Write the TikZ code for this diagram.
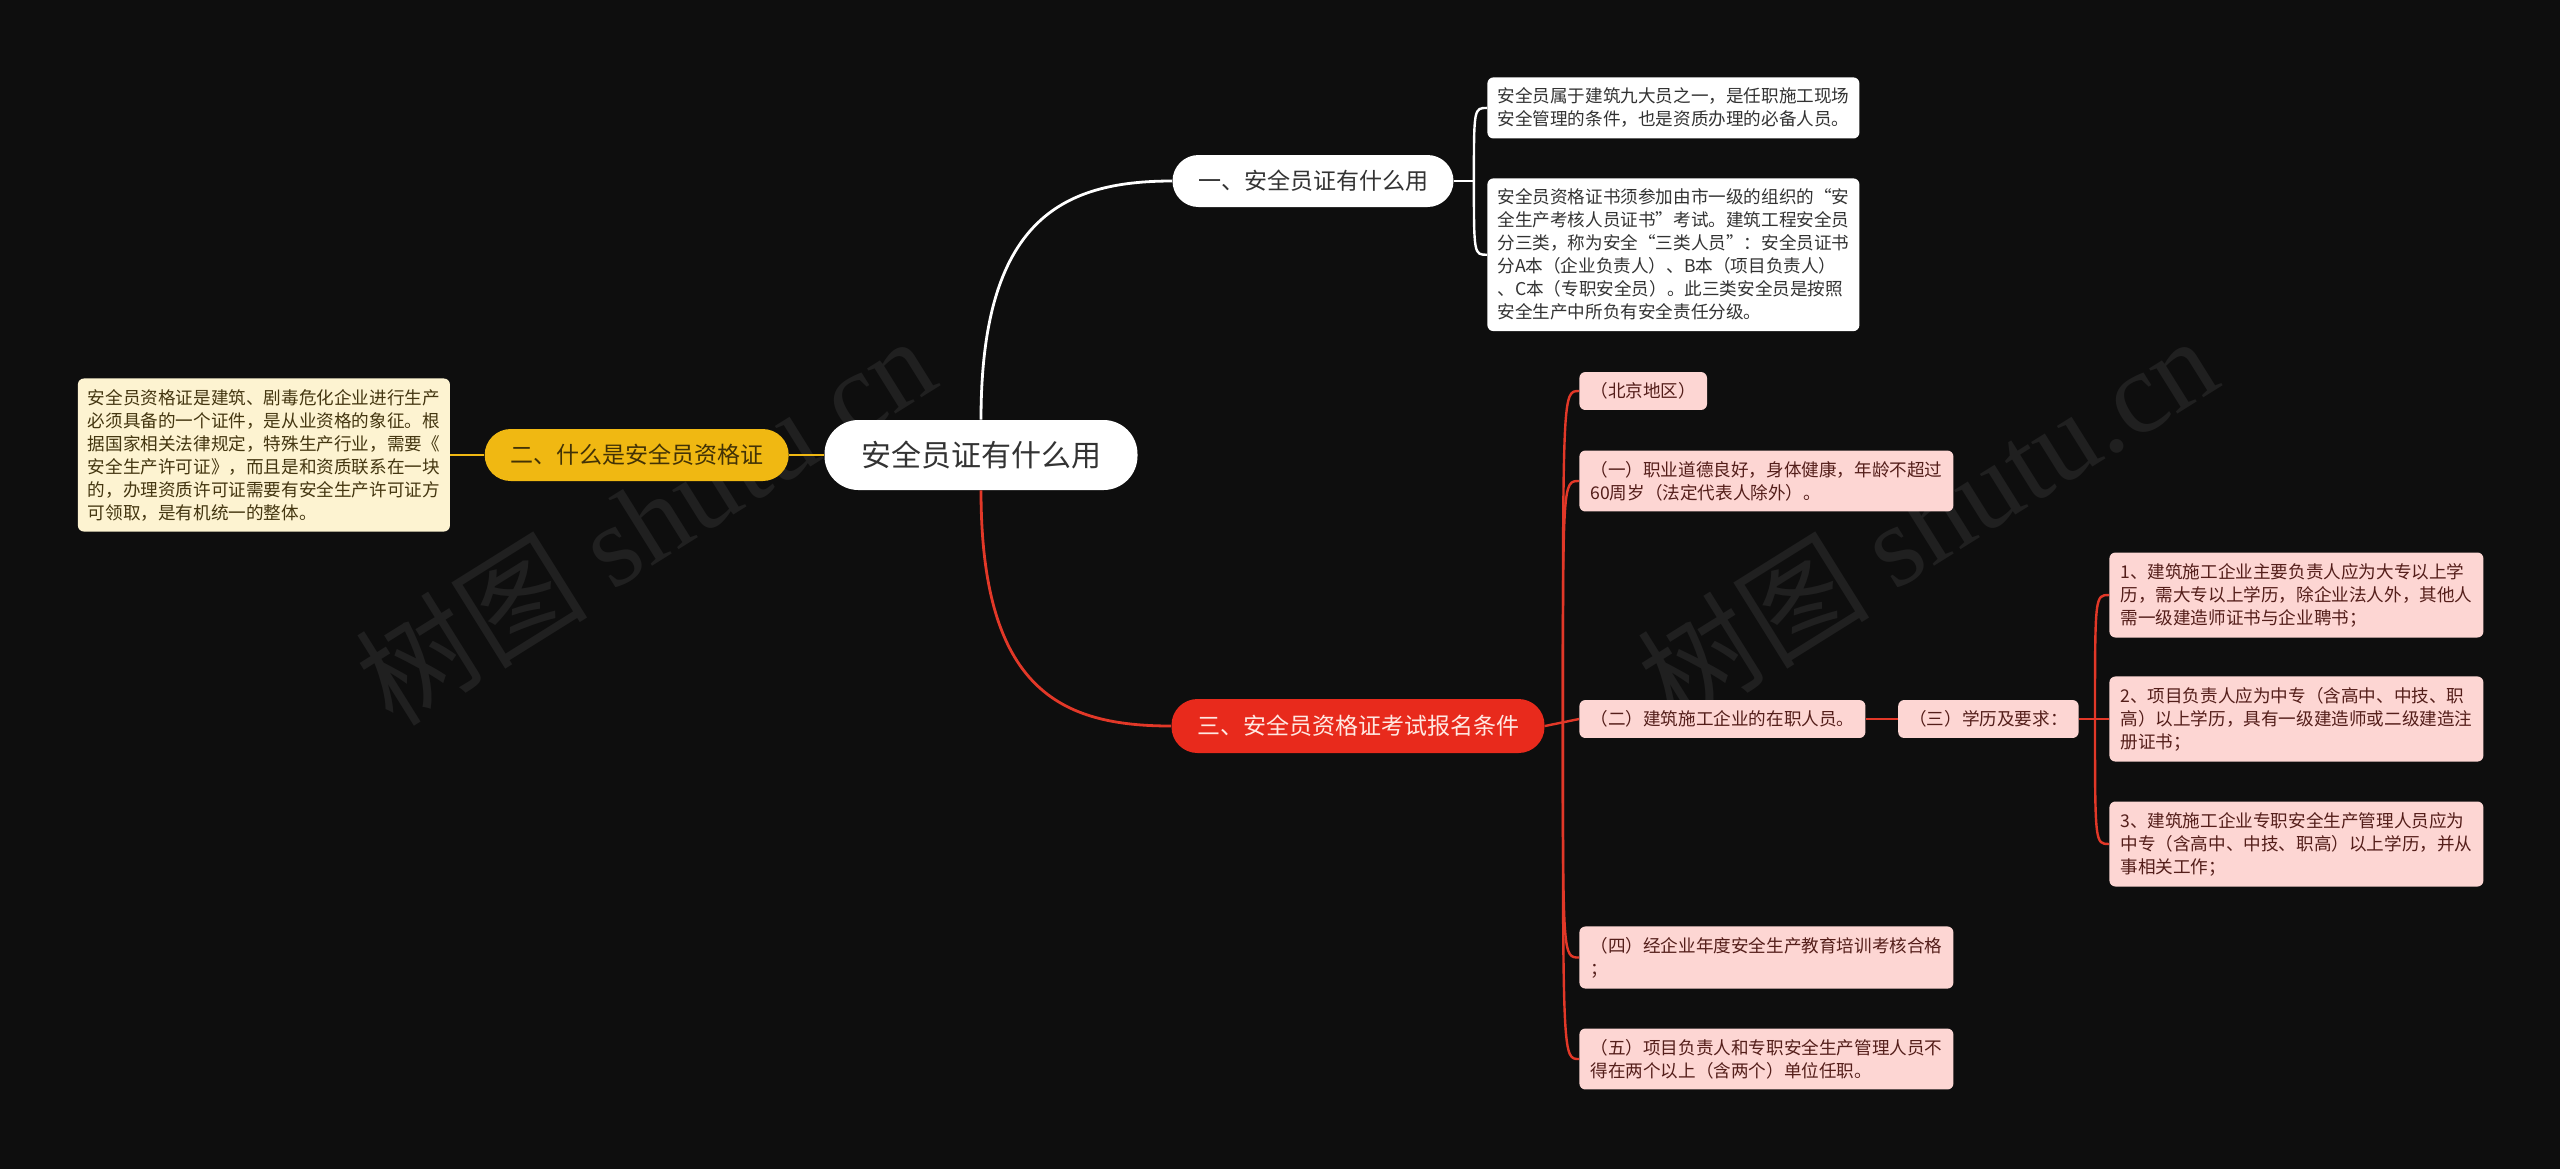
\documentclass[tikz,border=0pt]{standalone}
\usepackage{fontspec}
\setmainfont{Noto Sans CJK SC}
\newfontfamily\markfont{Liberation Serif}
\usepackage{tikz}
\usetikzlibrary{positioning}
\definecolor{bgblack}{RGB}{14, 14, 14}
\definecolor{textgray}{RGB}{51, 51, 51}
\definecolor{goldfill}{RGB}{240, 184, 18}
\definecolor{goldtext}{RGB}{66, 50, 6}
\definecolor{creamfill}{RGB}{253, 243, 209}
\definecolor{creamtext}{RGB}{68, 54, 16}
\definecolor{redfill}{RGB}{232, 42, 28}
\definecolor{redtext}{RGB}{255, 232, 226}
\definecolor{redline}{RGB}{226, 56, 40}
\definecolor{pinkfill}{RGB}{253, 214, 211}
\definecolor{pinktext}{RGB}{84, 30, 26}
\definecolor{marktext}{RGB}{32, 32, 32}

\begin{document}
\begin{tikzpicture}[x=0.5pt, y=-0.5pt,
  rootbox/.style={fill=white, text=textgray, rounded corners=17pt,
                  minimum width=156.5pt, minimum height=35pt, inner sep=0pt,
                  font=\fontsize{15pt}{18pt}\selectfont},
  topic/.style={rounded corners=13pt, minimum height=26pt, inner sep=0pt,
                font=\fontsize{11.5pt}{14pt}\selectfont},
  whitetopic/.style={topic, fill=white, text=textgray},
  goldtopic/.style={topic, fill=goldfill, text=goldtext},
  redtopic/.style={topic, fill=redfill, text=redtext, minimum height=27pt},
  leaf/.style={rounded corners=3pt, align=left, inner xsep=5pt, inner ysep=5.3pt,
               font=\fontsize{8.8pt}{11.5pt}\selectfont},
  whiteleaf/.style={leaf, fill=white, text=textgray},
  creamleaf/.style={leaf, fill=creamfill, text=creamtext},
  pinkleaf/.style={leaf, fill=pinkfill, text=pinktext, inner xsep=5.5pt},
  wline/.style={draw=white, line width=1.4pt},
  gline/.style={draw=goldfill, line width=1.4pt},
  rline/.style={draw=redline, line width=1.4pt},
  wmark/.style={text=marktext, rotate=32, font=\fontsize{58pt}{58pt}\selectfont}]
  \fill[bgblack] (0,0) rectangle (2560,1169);
  \useasboundingbox (0,0) rectangle (2560,1169);
  \node[wmark] (markL) at (645,519) {树图 {\markfont shutu.cn}};
  \node[wmark] (markR) at (1927,519) {树图 {\markfont shutu.cn}};

  \node[rootbox] (root) at (981,455) {安全员证有什么用};
  \node[whitetopic, minimum width=140.5pt] (use) at (1313,181) {一、安全员证有什么用};
  \node[goldtopic, minimum width=152pt, left=17.5pt of root] (cert) {二、什么是安全员资格证};
  \node[redtopic, minimum width=186.5pt] (exam) at (1358,726) {三、安全员资格证考试报名条件};

  \node[whiteleaf, anchor=north west] (useA) at (1487,77)
    {安全员属于建筑九大员之一，是任职施工现场\\安全管理的条件，也是资质办理的必备人员。};
  \node[whiteleaf, anchor=north west] (useB) at (1487,178)
    {安全员资格证书须参加由市一级的组织的“安\\全生产考核人员证书”考试。建筑工程安全员\\分三类，称为安全“三类人员”：安全员证书\\分A本（企业负责人）、B本（项目负责人）\\、C本（专职安全员）。此三类安全员是按照\\安全生产中所负有安全责任分级。};
  \node[creamleaf, left=17pt of cert] (certnote)
    {安全员资格证是建筑、剧毒危化企业进行生产\\必须具备的一个证件，是从业资格的象征。根\\据国家相关法律规定，特殊生产行业，需要《\\安全生产许可证》，而且是和资质联系在一块\\的，办理资质许可证需要有安全生产许可证方\\可领取，是有机统一的整体。};

  \node[pinkleaf, anchor=west] (area) at (1579,391) {（北京地区）};
  \node[pinkleaf, anchor=west] (ethic) at (1579,481)
    {（一）职业道德良好，身体健康，年龄不超过\\60周岁（法定代表人除外）。};
  \node[pinkleaf, anchor=west] (staff) at (1579,719) {（二）建筑施工企业的在职人员。};
  \node[pinkleaf, right=16pt of staff] (degree) {（三）学历及要求：};
  \node[pinkleaf, anchor=west] (train) at (1579,957.5)
    {（四）经企业年度安全生产教育培训考核合格\\；};
  \node[pinkleaf, anchor=west] (post) at (1579,1059)
    {（五）项目负责人和专职安全生产管理人员不\\得在两个以上（含两个）单位任职。};

  \node[pinkleaf, anchor=west] (degA) at (2109,595)
    {1、建筑施工企业主要负责人应为大专以上学\\历，需大专以上学历，除企业法人外，其他人\\需一级建造师证书与企业聘书；};
  \node[pinkleaf, anchor=west] (degB) at (2109,719)
    {2、项目负责人应为中专（含高中、中技、职\\高）以上学历，具有一级建造师或二级建造注\\册证书；};
  \node[pinkleaf, anchor=west] (degC) at (2109,844)
    {3、建筑施工企业专职安全生产管理人员应为\\中专（含高中、中技、职高）以上学历，并从\\事相关工作；};

  \draw[wline] (root.north) .. controls ([yshift=100pt]root.north) and ([xshift=-55pt]use.west) .. (use.west);
  \draw[rline] (root.south) .. controls ([yshift=-100pt]root.south) and ([xshift=-55pt]exam.west) .. (exam.west);
  \draw[gline] (root.west) -- (cert.east);
  \draw[gline] (cert.west) -- (certnote.east);

  \draw[wline, line width=1.2pt] (use.east) -- ++(20,0) coordinate (useJ);
  \foreach \kid in {useA, useB}
    \draw[wline, line width=1.2pt] (useJ) .. controls (useJ |- \kid.west) .. (\kid.west);

  \draw[rline, line width=1.2pt] (exam.east) -- (staff.west);
  \coordinate (examJ) at ([xshift=9pt]exam.east);
  \foreach \kid in {area, ethic, train, post}
    \draw[rline, line width=1.2pt] (examJ) .. controls (examJ |- \kid.west) .. (\kid.west);
  \draw[rline, line width=1.2pt] (staff.east) -- (degree.west);

  \draw[rline, line width=1.2pt] (degree.east) -- (degB.west);
  \coordinate (degJ) at ([xshift=8pt]degree.east);
  \foreach \kid in {degA, degC}
    \draw[rline, line width=1.2pt] (degJ) .. controls (degJ |- \kid.west) .. (\kid.west);
\end{tikzpicture}
\end{document}
